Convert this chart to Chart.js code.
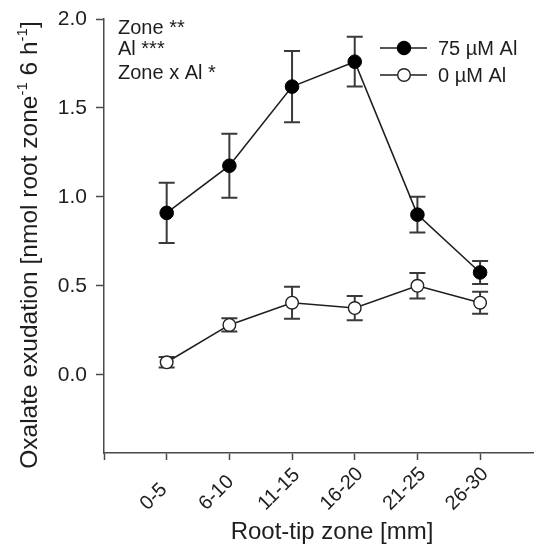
<!DOCTYPE html>
<html>
<head>
<meta charset="utf-8">
<script src="https://cdn.jsdelivr.net/npm/chart.js@4/dist/chart.umd.min.js"></script>
<style>
  html, body { margin: 0; padding: 0; background: #fff; overflow: hidden; }
  #wrap { width: 534px; height: 546px; }
</style>
</head>
<body>
<div id="wrap"><canvas id="c" width="534" height="546"></canvas></div>
<script>
// ---- data ----
const zones = ['0-5', '6-10', '11-15', '16-20', '21-25', '26-30'];
const al75 = [0.91, 1.175, 1.62, 1.76, 0.90, 0.575];
const al75Err = [0.17, 0.18, 0.20, 0.14, 0.10, 0.065];
const al0 = [0.07, 0.28, 0.405, 0.375, 0.50, 0.405];
const al0Err = [0.03, 0.037, 0.09, 0.068, 0.072, 0.062];
const yTicks = [0.0, 0.5, 1.0, 1.5, 2.0];
const seriesNames = ['75 µM Al', '0 µM Al'];
const statsLines = ['Zone **', 'Al ***', 'Zone x Al *'];
const xTitle = 'Root-tip zone [mm]';
const yTitleParts = [
  { t: 'Oxalate exudation [nmol root zone' }, { t: '-1', sup: true },
  { t: ' 6 h' }, { t: '-1', sup: true }, { t: ']' }
];

const FONT = '"Liberation Sans", Arial, Helvetica, sans-serif';
const INK = '#1e1e1e';
const AXIS = '#4a4a4a';

const errs = [al75Err, al0Err];

const errorBars = {
  id: 'errorBars',
  beforeDatasetsDraw(chart) {
    const ctx = chart.ctx, xs = chart.scales.x, ys = chart.scales.y;
    ctx.save();
    ctx.strokeStyle = '#3a3a3a';
    ctx.lineWidth = 2;
    chart.data.datasets.forEach((ds, i) => {
      ds.data.forEach((p, j) => {
        const e = errs[i][j];
        const x = xs.getPixelForValue(p.x);
        const yt = ys.getPixelForValue(p.y + e);
        const yb = ys.getPixelForValue(p.y - e);
        ctx.beginPath();
        ctx.moveTo(x, yt); ctx.lineTo(x, yb);
        ctx.moveTo(x - 8, yt); ctx.lineTo(x + 8, yt);
        ctx.moveTo(x - 8, yb); ctx.lineTo(x + 8, yb);
        ctx.stroke();
      });
    });
    ctx.restore();
  }
};

const decorations = {
  id: 'decorations',
  afterDraw(chart) {
    const ctx = chart.ctx, xs = chart.scales.x;
    ctx.save();
    ctx.fillStyle = INK;

    // x category labels, rotated 45°, bottom-aligned
    ctx.font = '20px ' + FONT;
    ctx.textAlign = 'center';
    ctx.textBaseline = 'alphabetic';
    const bottom = xs.top + 58, h = 14.3;
    zones.forEach((z, i) => {
      const w = ctx.measureText(z).width;
      const cx = xs.getPixelForValue(i + 1) - 14;
      const cy = bottom - 0.3536 * (w + h);
      ctx.save();
      ctx.translate(cx, cy);
      ctx.rotate(-Math.PI / 4);
      ctx.fillText(z, 0, h / 2);
      ctx.restore();
    });

    // stats annotation
    ctx.font = '20px ' + FONT;
    ctx.textAlign = 'left';
    ctx.textBaseline = 'alphabetic';
    const sy = [34, 55, 79];
    statsLines.forEach((s, i) => ctx.fillText(s, 118, sy[i]));

    // legend
    const ly = [48, 75];
    chart.data.datasets.forEach((ds, i) => {
      ctx.strokeStyle = ds.borderColor;
      ctx.lineWidth = 1.6;
      ctx.beginPath();
      ctx.moveTo(380, ly[i]); ctx.lineTo(427, ly[i]);
      ctx.stroke();
      ctx.beginPath();
      ctx.arc(404, ly[i], ds.pointRadius, 0, Math.PI * 2);
      ctx.fillStyle = ds.pointBackgroundColor;
      ctx.fill();
      ctx.lineWidth = ds.pointBorderWidth;
      ctx.strokeStyle = ds.pointBorderColor;
      ctx.stroke();
      ctx.fillStyle = INK;
      ctx.font = '20px ' + FONT;
      ctx.textBaseline = 'middle';
      ctx.fillText(seriesNames[i], 438, ly[i] + 1);
    });

    // x title
    ctx.textBaseline = 'alphabetic';
    ctx.textAlign = 'center';
    ctx.font = '24px ' + FONT;
    ctx.fillText(xTitle, 332, 539);

    // y title with superscripts
    const size = 24.5, supSize = 15;
    let total = 0;
    yTitleParts.forEach(p => {
      ctx.font = (p.sup ? supSize : size) + 'px ' + FONT;
      p.w = ctx.measureText(p.t).width;
      total += p.w;
    });
    ctx.translate(37, 245);
    ctx.rotate(-Math.PI / 2);
    ctx.textAlign = 'left';
    let x = -total / 2;
    yTitleParts.forEach(p => {
      ctx.font = (p.sup ? supSize : size) + 'px ' + FONT;
      ctx.fillText(p.t, x, p.sup ? -10 : 0);
      x += p.w;
    });
    ctx.restore();
  }
};

const toPts = arr => arr.map((v, i) => ({ x: i + 1, y: v }));

new Chart(document.getElementById('c'), {
  type: 'line',
  data: {
    datasets: [
      {
        label: seriesNames[0], data: toPts(al75),
        borderColor: INK, borderWidth: 1.6,
        pointRadius: 6.8, pointBackgroundColor: '#000', pointBorderColor: '#000', pointBorderWidth: 1
      },
      {
        label: seriesNames[1], data: toPts(al0),
        borderColor: INK, borderWidth: 1.6,
        pointRadius: 6.3, pointBackgroundColor: '#fff', pointBorderColor: '#222', pointBorderWidth: 1.4
      }
    ]
  },
  options: {
    responsive: false,
    animation: false,
    layout: { autoPadding: false, padding: { top: 19, right: 0, left: 0, bottom: 0 } },
    plugins: { legend: { display: false }, tooltip: { enabled: false } },
    scales: {
      x: {
        type: 'linear', min: 0, max: 6.86,
        afterBuildTicks: s => { s.ticks = [0, 1, 2, 3, 4, 5, 6].map(v => ({ value: v })); },
        afterFit: s => { s.height = 93; s.paddingRight = 0; s.paddingLeft = 0; },
        ticks: { display: false },
        grid: { drawOnChartArea: false, drawTicks: true, tickLength: 7, tickColor: AXIS, tickWidth: 1.5 },
        border: { color: AXIS, width: 1.5 }
      },
      y: {
        min: -0.44, max: 2.0,
        afterBuildTicks: s => { s.ticks = yTicks.map(v => ({ value: v })); },
        afterFit: s => { s.width = 104; s.paddingTop = 0; s.paddingBottom = 0; },
        ticks: {
          callback: v => Number(v).toFixed(1),
          font: { size: 21, family: FONT }, color: INK, padding: 9
        },
        grid: { drawOnChartArea: false, drawTicks: true, tickLength: 8, tickColor: AXIS, tickWidth: 1.5 },
        border: { color: AXIS, width: 1.5 }
      }
    }
  },
  plugins: [errorBars, decorations]
});
</script>
</body>
</html>
